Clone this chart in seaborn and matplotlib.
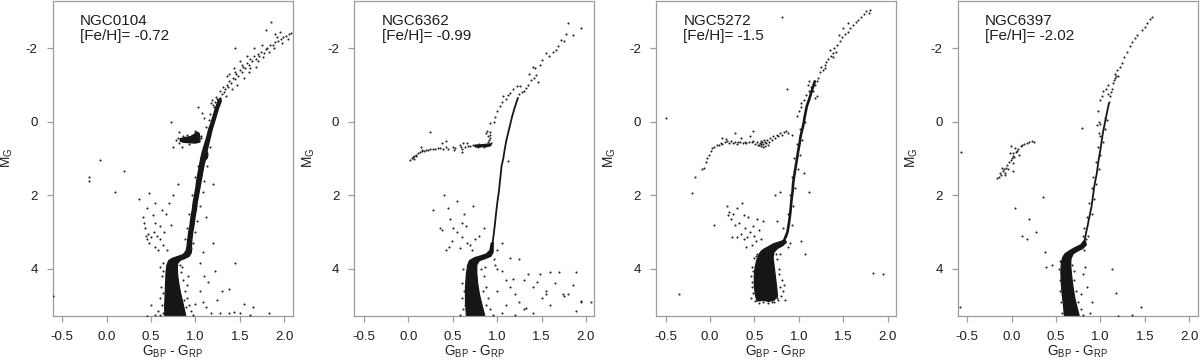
import matplotlib
matplotlib.use("Agg")
import matplotlib.pyplot as plt
import pandas as pd
import seaborn as sns

# ---------------- data ----------------
clusters = ["NGC0104", "NGC6362", "NGC5272", "NGC6397"]
feh_text = ["-0.72", "-0.99", "-1.5", "-2.02"]
x_ticks = [-0.5, 0.0, 0.5, 1.0, 1.5, 2.0]
x_tick_labels = ["-0.5", "0.0", "0.5", "1.0", "1.5", "2.0"]
y_ticks = [-2, 0, 2, 4]
y_tick_labels = ["-2", "0", "2", "4"]

# --- NGC0104: saturated MS + SGB + RGB outline, red clump outline, stars
ngc0104_seq = [(0.655, 5.28), (0.655, 5.0), (0.66, 4.7), (0.665, 4.4), (0.67, 4.1), (0.68, 3.9),
               (0.70, 3.78), (0.74, 3.72), (0.80, 3.67), (0.86, 3.62), (0.895, 3.52), (0.905, 3.4),
               (0.915, 3.2), (0.925, 3.0), (0.94, 2.8), (0.95, 2.6), (0.965, 2.4), (0.975, 2.2),
               (0.99, 2.0), (1.005, 1.8), (1.015, 1.6), (1.03, 1.4), (1.045, 1.2), (1.06, 1.0),
               (1.08, 0.8), (1.105, 0.6), (1.13, 0.4), (1.15, 0.2), (1.18, 0.0), (1.205, -0.2),
               (1.23, -0.4), (1.26, -0.6), (1.285, -0.65), (1.29, -0.55), (1.265, -0.4), (1.24, -0.2),
               (1.215, 0.0), (1.19, 0.2), (1.17, 0.4), (1.15, 0.6), (1.13, 0.8), (1.14, 0.88),
               (1.135, 0.98), (1.11, 1.05), (1.095, 1.2), (1.08, 1.4), (1.065, 1.6), (1.05, 1.8),
               (1.035, 2.0), (1.02, 2.2), (1.01, 2.4), (0.995, 2.6), (0.985, 2.8), (0.97, 3.0),
               (0.96, 3.2), (0.955, 3.4), (0.955, 3.55), (0.93, 3.66), (0.88, 3.72), (0.83, 3.77),
               (0.80, 3.85), (0.795, 4.0), (0.80, 4.2), (0.815, 4.45), (0.835, 4.7), (0.86, 4.95),
               (0.89, 5.28)]
ngc0104_clump = [(0.83, 0.46), (0.89, 0.43), (0.95, 0.40), (0.99, 0.34), (1.01, 0.28), (1.04, 0.31),
                 (1.05, 0.42), (1.05, 0.55), (1.00, 0.58), (0.93, 0.57), (0.87, 0.56), (0.83, 0.53)]
ngc0104_stars = [
    (1.30, -0.75), (1.33, -0.9), (1.35, -1.0), (1.37, -0.95), (1.38, -1.1), (1.40, -1.05), (1.42, -1.2),
    (1.44, -1.15), (1.46, -1.3), (1.48, -1.25), (1.50, -1.4), (1.52, -1.35), (1.54, -1.5), (1.56, -1.45),
    (1.58, -1.6), (1.60, -1.55), (1.62, -1.7), (1.64, -1.65), (1.66, -1.78), (1.68, -1.72), (1.70, -1.85),
    (1.72, -1.8), (1.74, -1.9), (1.77, -1.88), (1.79, -1.98), (1.81, -2.02), (1.84, -2.08), (1.87, -2.1),
    (1.90, -2.18), (1.93, -2.2), (1.96, -2.26), (1.99, -2.3), (2.02, -2.33), (2.05, -2.38), (2.08, -2.42),
    (1.85, -2.72), (1.80, -2.5), (1.90, -2.4), (1.95, -2.45), (1.75, -2.1), (1.66, -2.0), (1.58, -1.8),
    (1.50, -1.65), (1.45, -2.02), (1.43, -1.45), (1.38, -1.3), (1.36, -1.25), (1.47, -1.0), (1.55, -1.2),
    (1.60, -1.35), (1.68, -1.5), (1.25, -0.5), (1.22, -0.55), (1.20, -0.45), (1.24, -0.62), (1.19, -0.6),
    (1.21, -0.4), (1.27, -0.6), (1.18, -0.5), (1.23, -0.68), (1.28, -0.85), (1.16, -0.2), (1.15, -0.05),
    (1.12, 0.15), (1.03, -0.4), (1.07, -0.25), (1.10, -0.1), (1.32, -0.8), (1.34, -0.7), (1.31, -0.95),
    (1.41, -0.9), (1.44, -1.35), (1.52, -1.55), (1.62, -1.45), (1.70, -1.65), (1.76, -1.75),
    (1.83, -1.9), (1.88, -2.0), (1.92, -2.3), (1.98, -2.15), (2.04, -2.25),
    (0.80, 0.45), (0.78, 0.5), (0.86, 0.4), (0.82, 0.58), (1.06, 0.45), (1.06, 0.38), (0.93, 0.6),
    (0.99, 0.25), (0.75, 0.68), (0.85, 0.68), (0.72, 0.02), (0.82, 0.27), (0.90, 0.35),
    (0.37, 2.1), (0.45, 2.35), (0.41, 2.6), (0.43, 2.9), (0.47, 3.05), (0.50, 3.15), (0.53, 3.0),
    (0.55, 2.75), (0.60, 3.2), (0.63, 3.35), (0.67, 2.5), (0.70, 2.2), (0.75, 2.0), (0.80, 1.7),
    (0.48, 3.3), (0.58, 3.5), (0.65, 3.0), (0.52, 2.55), (0.60, 2.85), (0.72, 2.8), (0.68, 3.5),
    (0.55, 3.4), (0.45, 3.2), (0.62, 2.4), (0.57, 3.1),
    (0.60, 3.95), (0.62, 4.2), (0.61, 4.5), (0.60, 4.8), (0.62, 5.0), (0.58, 5.15), (0.60, 5.25),
    (0.55, 5.25), (0.84, 4.1), (0.86, 4.3), (0.88, 4.6), (0.91, 4.8), (0.93, 5.0), (0.95, 5.15),
    (0.97, 5.25), (0.90, 4.45), (0.92, 4.2), (1.00, 4.95), (0.85, 3.95), (0.95, 3.45), (0.97, 3.3),
    (1.00, 3.0), (0.88, 3.2), (0.90, 2.9), (1.02, 2.7), (0.93, 2.5), (1.05, 2.3), (0.96, 2.0),
    (1.08, 1.9), (1.00, 1.5), (1.10, 1.6), (1.03, 1.2), (1.13, 1.2), (1.07, 0.9), (1.16, 0.7),
    (0.63, 4.65), (0.64, 4.05), (0.63, 5.2), (0.89, 5.05), (0.87, 4.85), (0.83, 3.9), (0.64, 3.85),
    (1.05, 4.6), (1.08, 4.9), (1.12, 5.05), (1.18, 5.2), (1.24, 4.85), (1.28, 5.2), (1.38, 5.22),
    (1.43, 5.18), (1.50, 5.22), (1.62, 5.25), (1.65, 5.05), (1.83, 5.2), (1.38, 4.55), (1.14, 4.35),
    (1.05, 3.85), (1.09, 3.55), (1.22, 4.05), (1.45, 3.85), (1.20, 3.3), (1.12, 2.6), (1.20, 1.7),
    (1.10, 4.2), (1.30, 4.6), (1.55, 4.95),
    (-0.07, 1.05), (-0.20, 1.5), (-0.20, 1.6), (0.10, 1.9), (0.20, 1.35), (-0.60, 4.75), (0.46, 5.28),
    (0.50, 5.0), (0.48, 1.95), (0.55, 2.2), (0.42, 2.75), (0.44, 3.1)]

# --- NGC6362
ngc6362_seq = [(0.655, 5.28), (0.645, 4.9), (0.645, 4.5), (0.655, 4.15), (0.67, 3.9), (0.69, 3.78),
               (0.75, 3.70), (0.82, 3.65), (0.88, 3.60), (0.92, 3.50), (0.935, 3.3), (0.955, 3.3),
               (0.955, 3.55), (0.93, 3.66), (0.87, 3.72), (0.80, 3.78), (0.77, 3.9), (0.77, 4.1),
               (0.78, 4.4), (0.80, 4.7), (0.83, 5.0), (0.86, 5.28)]
ngc6362_rgb = [(0.945, 3.4), (0.965, 3.0), (0.975, 2.8), (0.985, 2.57), (0.995, 2.35), (1.007, 2.12),
               (1.02, 1.9), (1.03, 1.67), (1.04, 1.45), (1.05, 1.21), (1.07, 1.0), (1.085, 0.76),
               (1.105, 0.5), (1.125, 0.3), (1.145, 0.1), (1.17, -0.15), (1.20, -0.4), (1.235, -0.65)]
ngc6362_rhb = [(0.76, 0.66), (0.80, 0.66), (0.84, 0.65), (0.88, 0.65), (0.92, 0.63)]
ngc6362_stars = [
    (0.02, 1.05), (0.04, 1.0), (0.05, 0.96), (0.07, 0.92), (0.09, 0.9), (0.11, 0.86), (0.13, 0.83),
    (0.16, 0.8), (0.18, 0.79), (0.20, 0.76), (0.22, 0.78), (0.25, 0.74), (0.28, 0.73), (0.30, 0.75),
    (0.33, 0.72), (0.36, 0.71), (0.39, 0.73), (0.42, 0.7), (0.45, 0.75), (0.38, 0.58), (0.24, 0.27),
    (0.50, 0.68), (0.53, 0.72), (0.58, 0.62), (0.60, 0.75), (0.61, 0.82), (0.64, 0.69), (0.67, 0.67),
    (0.70, 0.66), (0.73, 0.64), (0.59, 0.7), (0.62, 0.58), (0.14, 0.69), (0.16, 0.76), (0.09, 0.94),
    (0.06, 1.02), (0.43, 0.53), (0.51, 0.76), (0.66, 0.58),
    (0.90, 0.55), (0.91, 0.5), (0.92, 0.45), (0.90, 0.4), (0.92, 0.35), (0.89, 0.6), (0.93, 0.58),
    (0.86, 0.6), (0.83, 0.62), (0.80, 0.6), (0.88, 0.3), (0.92, 0.28), (0.78, 0.68), (0.85, 0.68),
    (1.25, -0.75), (1.28, -0.8), (1.30, -0.85), (1.33, -0.91), (1.35, -1.0), (1.38, -1.14), (1.41, -1.2),
    (1.44, -1.28), (1.40, -1.5), (1.43, -1.45), (1.48, -1.55), (1.51, -1.68), (1.55, -1.86), (1.58, -1.8),
    (1.63, -1.9), (1.66, -1.95), (1.69, -2.05), (1.72, -2.23), (1.75, -2.2), (1.78, -2.4), (1.80, -2.68),
    (1.85, -2.36), (1.94, -2.54), (1.07, -0.7), (1.10, -0.62), (1.12, -0.72), (1.15, -0.78), (1.05, -0.55),
    (1.03, -0.42), (1.00, -0.3), (0.98, -0.14), (0.96, 0.0), (0.92, 0.04), (0.89, 0.26), (1.18, -0.9),
    (1.22, -0.96), (1.26, -0.98), (1.46, -1.08), (1.36, -1.3),
    (0.62, 4.0), (0.60, 4.4), (0.60, 4.8), (0.62, 5.1), (0.58, 5.25), (0.85, 4.2), (0.88, 4.5),
    (0.90, 4.8), (0.92, 5.1), (0.95, 5.25), (0.82, 4.0), (0.86, 3.95), (0.97, 3.75), (1.00, 3.5),
    (1.05, 3.3), (1.00, 4.0), (0.63, 4.6), (0.64, 5.0), (0.84, 4.6), (0.87, 5.0),
    (0.98, 3.9), (1.05, 4.05), (1.10, 4.3), (1.15, 4.5), (1.20, 4.7), (1.25, 4.9), (1.30, 5.1),
    (1.35, 4.15), (1.40, 4.5), (1.45, 4.35), (1.50, 4.8), (1.55, 4.6), (1.60, 5.0), (1.65, 4.4),
    (1.70, 4.1), (1.75, 4.75), (1.80, 4.7), (1.85, 4.45), (1.89, 4.09), (1.95, 4.9), (2.06, 4.92),
    (1.20, 5.25), (1.40, 5.2), (1.10, 5.0), (1.30, 4.3), (1.00, 4.6), (1.05, 5.2), (1.15, 3.7),
    (1.25, 3.75), (1.48, 4.15), (1.60, 4.1), (1.89, 5.15), (1.94, 4.88), (1.18, 4.27), (1.33, 5.06),
    (1.55, 4.7), (1.74, 4.7),
    (0.28, 2.4), (0.40, 2.0), (0.55, 2.15), (0.45, 2.35), (0.47, 2.65), (0.36, 2.9), (0.38, 2.95),
    (0.50, 2.9), (0.60, 2.75), (0.63, 2.5), (0.73, 2.3), (0.55, 3.0), (0.60, 3.15), (0.66, 3.3),
    (0.49, 3.25), (0.46, 3.4), (0.58, 3.45), (0.70, 3.35), (0.75, 3.2), (0.80, 3.1), (0.85, 2.9),
    (0.72, 3.5), (0.42, 3.5), (0.65, 2.85), (1.12, 1.06)]

# --- NGC5272
ngc5272_seq = [(0.53, 4.88), (0.51, 4.7), (0.50, 4.45), (0.50, 4.2), (0.51, 3.95), (0.53, 3.75),
               (0.56, 3.58), (0.60, 3.48), (0.66, 3.40), (0.72, 3.32), (0.80, 3.26), (0.84, 3.21),
               (0.86, 3.28), (0.82, 3.37), (0.76, 3.45), (0.72, 3.55), (0.71, 3.7), (0.72, 3.9),
               (0.735, 4.2), (0.75, 4.5), (0.76, 4.75), (0.72, 4.86), (0.66, 4.89), (0.60, 4.86)]
ngc5272_rgb = [(0.84, 3.2), (0.873, 3.0), (0.89, 2.75), (0.90, 2.57), (0.91, 2.35), (0.918, 2.12),
               (0.93, 1.9), (0.937, 1.67), (0.95, 1.45), (0.966, 1.21), (0.98, 1.0), (0.996, 0.76),
               (1.01, 0.58), (1.02, 0.4), (1.035, 0.25), (1.05, 0.1), (1.067, -0.14), (1.09, -0.42),
               (1.116, -0.6), (1.15, -0.87), (1.18, -1.1)]
ngc5272_stars = [
    (-0.09, 1.3), (-0.07, 1.25), (-0.05, 1.1), (-0.03, 0.99), (-0.01, 0.9), (0.01, 0.8), (0.02, 0.72),
    (0.05, 0.68), (0.08, 0.64), (0.10, 0.62), (0.12, 0.58), (0.14, 0.6), (0.17, 0.55), (0.19, 0.53),
    (0.22, 0.57), (0.24, 0.52), (0.26, 0.58), (0.28, 0.55), (0.30, 0.6), (0.32, 0.54), (0.34, 0.56),
    (0.37, 0.58), (0.39, 0.55), (0.41, 0.58), (0.44, 0.56), (0.47, 0.55), (0.49, 0.53), (0.51, 0.6),
    (0.53, 0.56), (0.55, 0.62), (0.56, 0.58), (0.57, 0.52), (0.58, 0.66), (0.59, 0.55), (0.60, 0.6),
    (0.61, 0.5), (0.62, 0.65), (0.63, 0.57), (0.64, 0.49), (0.65, 0.62), (0.66, 0.55), (0.68, 0.45),
    (0.70, 0.5), (0.71, 0.4), (0.73, 0.44), (0.75, 0.36), (0.77, 0.4), (0.79, 0.31), (0.81, 0.35),
    (0.83, 0.28), (0.86, 0.26), (0.88, 0.32), (0.92, 0.35), (0.13, 0.44), (0.28, 0.31), (0.49, 0.26),
    (0.18, 0.48), (0.35, 0.45), (0.45, 0.4), (0.57, 0.6), (0.60, 0.68), (0.54, 0.64), (0.62, 0.54),
    (-0.50, -0.1), (-0.20, 1.95), (-0.17, 1.5), (-0.35, 4.7), (0.05, 2.8), (0.81, -2.84), (0.87, -0.89),
    (1.83, 4.13), (1.95, 4.15), (1.12, 1.92), (1.06, 1.39), (1.02, 3.25), (1.07, 3.61), (0.79, 1.9),
    (0.73, 2.0), (0.82, 2.9), (0.75, 2.7),
    (0.19, 2.3), (0.22, 2.45), (0.26, 2.5), (0.30, 2.35), (0.24, 2.65), (0.28, 2.8), (0.33, 2.75),
    (0.36, 2.2), (0.38, 2.55), (0.40, 2.9), (0.43, 2.6), (0.45, 3.0), (0.48, 2.85), (0.35, 3.05),
    (0.30, 3.15), (0.38, 3.2), (0.42, 3.15), (0.50, 3.1), (0.52, 3.25), (0.47, 3.35), (0.41, 3.4),
    (0.55, 2.95), (0.58, 3.2), (0.60, 2.7), (0.53, 2.65), (0.25, 3.15), (0.20, 2.55),
    (1.13, -0.75), (1.16, -0.85), (1.18, -1.0), (1.20, -1.1), (1.22, -1.2), (1.24, -1.35), (1.27, -1.42),
    (1.29, -1.55), (1.31, -1.62), (1.33, -1.7), (1.36, -1.8), (1.38, -1.88), (1.40, -2.0), (1.43, -2.1),
    (1.46, -2.2), (1.49, -2.3), (1.52, -2.38), (1.55, -2.45), (1.58, -2.55), (1.61, -2.62), (1.64, -2.72),
    (1.67, -2.78), (1.70, -2.85), (1.73, -2.92), (1.76, -3.02), (1.79, -2.95), (1.80, -3.05), (1.50, -2.55),
    (1.45, -2.35), (1.55, -2.7), (1.38, -1.75), (1.25, -1.5), (1.30, -1.45), (1.35, -1.95), (1.42, -1.9),
    (1.03, -0.5), (1.06, -0.6), (1.08, -0.72), (1.11, -0.85), (1.14, -0.95), (1.00, -0.3), (1.02, -0.4),
    (0.98, -0.15), (1.10, -1.0), (1.12, -1.1), (1.18, -0.65), (1.20, -0.7),
    (0.46, 4.8), (0.47, 4.5), (0.46, 4.2), (0.47, 3.95), (0.50, 3.7), (0.80, 4.75), (0.82, 4.6),
    (0.81, 4.3), (0.78, 4.0), (0.76, 3.75), (0.85, 4.85), (0.55, 4.93), (0.65, 4.93), (0.72, 4.92),
    (0.83, 4.45), (0.79, 3.6), (0.90, 3.3), (0.88, 3.4), (0.53, 3.6), (0.62, 3.5), (0.86, 3.1),
    (0.92, 2.8), (0.88, 2.5), (0.94, 2.3), (0.90, 2.0), (0.96, 1.8), (0.92, 1.5), (0.99, 1.3),
    (0.95, 1.0), (1.01, 0.9), (0.98, 0.6), (1.04, 0.5), (1.01, 0.2), (1.07, 0.0),
    (0.48, 4.65), (0.49, 4.05), (0.77, 4.85), (0.79, 4.5), (0.78, 4.15), (0.51, 4.88), (0.60, 4.92),
    (0.70, 4.9), (0.75, 4.8), (0.74, 3.6), (0.52, 3.65), (0.58, 3.52), (0.47, 4.35)]

# --- NGC6397
ngc6397_seq = [(0.595, 5.28), (0.585, 5.0), (0.57, 4.7), (0.56, 4.4), (0.555, 4.1), (0.56, 3.85),
               (0.575, 3.7), (0.60, 3.6), (0.66, 3.5), (0.72, 3.42), (0.78, 3.35), (0.81, 3.25),
               (0.83, 3.25), (0.84, 3.35), (0.80, 3.45), (0.74, 3.52), (0.69, 3.6), (0.665, 3.75),
               (0.665, 3.95), (0.675, 4.2), (0.69, 4.5), (0.71, 4.8), (0.735, 5.05), (0.76, 5.28)]
ngc6397_rgb = [(0.82, 3.25), (0.84, 3.0), (0.855, 2.84), (0.87, 2.65), (0.885, 2.48), (0.90, 2.3),
               (0.91, 2.12), (0.92, 1.95), (0.93, 1.76), (0.945, 1.57), (0.96, 1.39), (0.97, 1.2),
               (0.98, 1.03), (0.993, 0.85), (1.005, 0.67), (1.015, 0.5), (1.027, 0.31), (1.04, 0.15),
               (1.053, 0.0), (1.065, -0.15), (1.08, -0.33), (1.095, -0.5)]
ngc6397_stars = [
    (-0.16, 1.53), (-0.14, 1.5), (-0.13, 1.39), (-0.12, 1.45), (-0.10, 1.35), (-0.09, 1.3), (-0.08, 1.4),
    (-0.07, 1.44), (-0.06, 1.25), (-0.05, 1.17), (-0.04, 1.3), (-0.03, 1.1), (-0.01, 1.03), (0.00, 1.0),
    (0.01, 0.92), (0.02, 0.85), (0.02, 1.12), (0.02, 1.35), (0.03, 0.95), (0.04, 0.71), (0.05, 0.82),
    (0.06, 0.8), (0.07, 0.75), (-0.01, 0.67), (0.10, 0.67), (0.12, 0.63), (0.14, 0.6), (0.17, 0.58),
    (0.20, 0.56), (0.23, 0.53), (0.25, 0.55), (-0.11, 1.25), (-0.02, 0.85), (0.08, 0.9),
    (-0.57, 0.82), (-0.58, 5.05), (0.35, 2.05), (0.04, 2.34), (0.19, 2.64), (0.27, 3.0), (0.12, 3.11),
    (0.17, 3.19), (0.37, 3.54), (0.39, 3.95), (0.79, 0.17), (1.13, 4.0), (1.17, 4.65), (1.46, 5.03),
    (1.20, 5.3), (1.35, 5.25), (0.83, 3.95), (0.80, 4.15), (0.85, 4.5), (0.90, 4.9), (0.88, 5.2),
    (0.78, 4.7), (0.45, 3.9),
    (0.53, 4.0), (0.54, 4.3), (0.55, 4.6), (0.56, 4.9), (0.57, 5.2), (0.70, 4.3), (0.72, 4.6),
    (0.75, 4.9), (0.78, 5.1), (0.80, 5.25), (0.68, 3.9), (0.70, 4.05), (0.55, 3.8), (0.84, 3.2),
    (0.86, 3.1), (0.82, 3.5),
    (0.80, 3.1), (0.82, 2.9), (0.85, 2.6), (0.90, 2.5), (0.87, 2.2), (0.93, 2.1), (0.90, 1.8),
    (0.95, 1.7), (0.92, 1.5), (0.98, 1.3), (0.95, 1.1), (1.00, 0.9), (0.97, 0.7), (1.03, 0.55),
    (1.00, 0.4), (1.05, 0.2), (1.00, 0.05), (1.07, -0.05), (1.05, -0.1), (0.96, 0.1), (0.98, 0.3),
    (1.10, -0.55), (1.11, -0.69), (1.12, -0.8), (1.13, -0.9), (1.14, -1.05), (1.15, -1.14), (1.16, -1.2),
    (1.17, -1.25), (1.165, -1.3), (1.19, -1.4), (1.22, -1.5), (1.24, -1.6), (1.27, -1.77), (1.30, -1.91),
    (1.33, -2.05), (1.35, -2.18), (1.39, -2.27), (1.41, -2.36), (1.465, -2.5), (1.50, -2.59),
    (1.52, -2.68), (1.56, -2.81), (1.58, -2.86), (1.03, -0.85), (1.06, -0.9), (1.09, -0.75),
    (1.08, -1.0), (1.00, -0.6), (1.02, -0.7), (0.97, -0.3), (0.98, 0.0), (1.20, -1.25)]

seq_outlines = {"NGC0104": [ngc0104_seq, ngc0104_clump], "NGC6362": [ngc6362_seq],
                "NGC5272": [ngc5272_seq], "NGC6397": [ngc6397_seq]}
ridges = {"NGC0104": [], "NGC6362": [(ngc6362_rgb, 1.3), (ngc6362_rhb, 2.4)],
          "NGC5272": [(ngc5272_rgb, 1.9)], "NGC6397": [(ngc6397_rgb, 1.3)]}
star_lists = {"NGC0104": ngc0104_stars, "NGC6362": ngc6362_stars,
              "NGC5272": ngc5272_stars, "NGC6397": ngc6397_stars}

stars = pd.concat(
    [pd.DataFrame(v, columns=["bp_rp", "mg"]).assign(cluster=k) for k, v in star_lists.items()],
    ignore_index=True)

# ---------------- style ----------------
sns.set_theme(style="white")
plt.rcParams["font.family"] = ["Liberation Sans", "DejaVu Sans"]
plt.rcParams["mathtext.fontset"] = "custom"
plt.rcParams["mathtext.rm"] = "Liberation Sans"
plt.rcParams["mathtext.it"] = "Liberation Sans:italic"
plt.rcParams["axes.unicode_minus"] = False

frame_col = "#9c9c9c"
ink = "#161616"

fig = plt.figure(figsize=(12, 3.63), dpi=100)
lefts = [0.0439, 0.2953, 0.5467, 0.7981]

for i, name in enumerate(clusters):
    ax = fig.add_axes([lefts[i], 0.1303, 0.2, 0.8683])
    for poly in seq_outlines[name]:
        px = [p[0] for p in poly]
        py = [p[1] for p in poly]
        ax.fill(px, py, color=ink, lw=1.0, ec=ink, joinstyle="round", zorder=2)
    for ridge, lw in ridges[name]:
        sns.lineplot(x=[p[0] for p in ridge], y=[p[1] for p in ridge], sort=False,
                     estimator=None, color=ink, lw=lw, ax=ax, zorder=2)
    sns.scatterplot(data=stars[stars.cluster == name], x="bp_rp", y="mg", s=2.2,
                    color="#202020", linewidth=0, ax=ax, zorder=3, legend=False)

    ax.set_xlim(-0.607, 2.095)
    ax.set_ylim(5.28, -3.30)
    ax.set_xticks(x_ticks)
    ax.set_xticklabels(x_tick_labels)
    ax.set_yticks(y_ticks)
    ax.set_yticklabels(y_tick_labels)
    for sp in ax.spines.values():
        sp.set_visible(True)
        sp.set_color(frame_col)
        sp.set_linewidth(0.9)
    ax.tick_params(axis="both", which="major", direction="out", length=4.3, width=0.9,
                   color=frame_col, labelcolor="#1e1e1e", labelsize=9.5, pad=6.5,
                   left=True, bottom=True)
    ax.set_xlabel(r"G$_{\mathrm{BP}}$ - G$_{\mathrm{RP}}$", fontsize=9.8, color="#1e1e1e")
    ax.set_ylabel(r"M$_{\mathrm{G}}$", fontsize=9.8, color="#1e1e1e")
    ax.xaxis.set_label_coords(0.5, -0.088)
    ax.yaxis.set_label_coords(-0.157, 0.5)
    ax.text(0.114, 0.957, f"{name}\n[Fe/H]= {feh_text[i]}", transform=ax.transAxes,
            ha="left", va="top", fontsize=11, color="#1e1e1e", linespacing=1.1)

fig.savefig("out.png", dpi=100)
